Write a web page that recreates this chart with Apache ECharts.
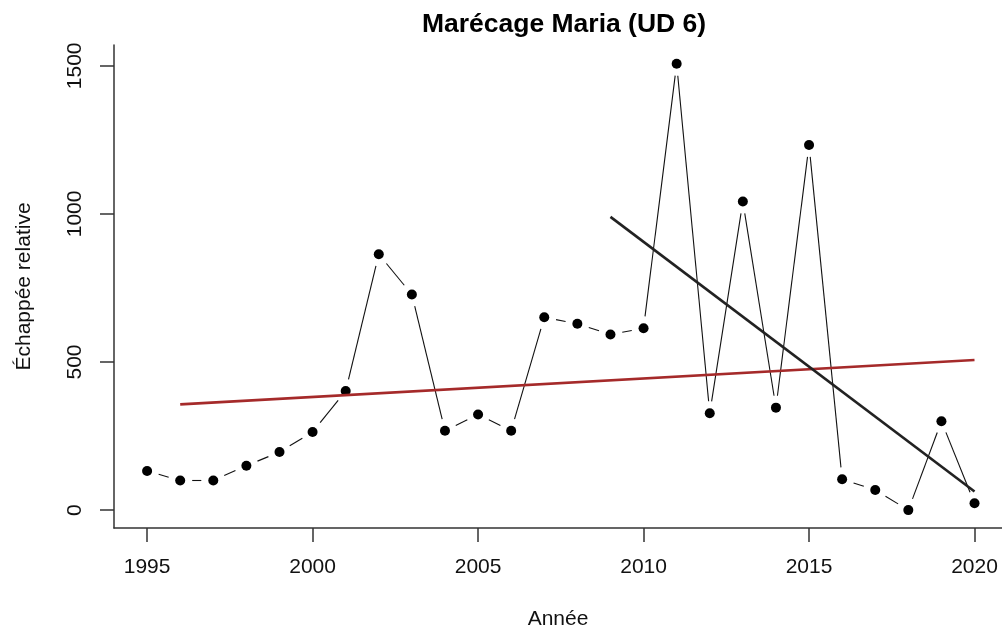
<!DOCTYPE html>
<html>
<head>
<meta charset="utf-8">
<script src="https://cdn.jsdelivr.net/npm/echarts@6/dist/echarts.min.js"></script>
<style>
html,body{margin:0;padding:0;background:#fff;}
#chart{width:1002px;height:635px;}
</style>
</head>
<body>
<div id="chart"></div>
<script>
// ---- Data ----
var years = [1995,1996,1997,1998,1999,2000,2001,2002,2003,2004,2005,2006,2007,2008,2009,2010,2011,2012,2013,2014,2015,2016,2017,2018,2019,2020];
var values = [132,100,100,150,196,264,402,864,728,268,323,268,651,629,593,614,1507,327,1042,346,1233,104,68,0,300,23];
var trendAllYears = [1996, 2020];
var trendAllValues = [357, 507];
var trendRecentYears = [2009, 2020];
var trendRecentValues = [990, 63];
var xTicks = [1995, 2000, 2005, 2010, 2015, 2020];
var yTicks = [0, 500, 1000, 1500];
var titleText = 'Marécage Maria (UD 6)';
var xName = 'Année';
var yName = 'Échappée relative';

// ---- Build ----
var points = years.map(function(y, i){ return [y, values[i]]; });
var segments = [];
for (var i = 0; i < years.length - 1; i++) {
  segments.push([years[i], values[i], years[i+1], values[i+1]]);
}
var trendAll = trendAllYears.map(function(y, i){ return [y, trendAllValues[i]]; });
var trendRecent = trendRecentYears.map(function(y, i){ return [y, trendRecentValues[i]]; });

var FONT = '"Liberation Sans", Arial, sans-serif';
var GAP = 12;

var chart = echarts.init(document.getElementById('chart'), null, {renderer: 'canvas'});
chart.setOption({
  animation: false,
  backgroundColor: '#ffffff',
  title: {
    text: titleText,
    left: 559,
    textAlign: 'center',
    top: 6,
    textStyle: {fontFamily: FONT, fontSize: 26.5, fontWeight: 'bold', color: '#000'}
  },
  grid: {left: 114, right: 0, top: 45, bottom: 104, containLabel: false},
  xAxis: {
    type: 'value',
    min: 1994, max: 2020.83,
    name: xName,
    nameLocation: 'middle',
    nameGap: 81,
    nameTextStyle: {fontFamily: FONT, fontSize: 21, color: '#111'},
    axisLine: {show: true, onZero: false, lineStyle: {color: '#333', width: 1.5}},
    axisTick: {show: true, inside: false, length: 14, customValues: xTicks, lineStyle: {color: '#333', width: 1.5}},
    axisLabel: {customValues: xTicks, margin: 29, fontFamily: FONT, fontSize: 21, color: '#111',
      formatter: function(v){ return String(v); }},
    splitLine: {show: false}
  },
  yAxis: {
    type: 'value',
    min: -60.4, max: 1570.4,
    name: yName,
    nameLocation: 'middle',
    nameGap: 79,
    nameTextStyle: {fontFamily: FONT, fontSize: 21, color: '#111'},
    axisLine: {show: true, onZero: false, lineStyle: {color: '#333', width: 1.5}},
    axisTick: {show: true, inside: false, length: 14, customValues: yTicks, lineStyle: {color: '#333', width: 1.5}},
    axisLabel: {customValues: yTicks, rotate: 90, margin: 28, fontFamily: FONT, fontSize: 21, color: '#111',
      formatter: function(v){ return String(v); }},
    splitLine: {show: false}
  },
  series: [
    {
      type: 'custom',
      data: segments,
      encode: {x: [0, 2], y: [1, 3]},
      clip: false,
      z: 2,
      renderItem: function(params, api){
        var p0 = api.coord([api.value(0), api.value(1)]);
        var p1 = api.coord([api.value(2), api.value(3)]);
        var dx = p1[0] - p0[0], dy = p1[1] - p0[1];
        var len = Math.sqrt(dx*dx + dy*dy);
        if (len <= 2 * GAP) return null;
        var ux = dx / len, uy = dy / len;
        return {
          type: 'line',
          shape: {x1: p0[0] + ux*GAP, y1: p0[1] + uy*GAP, x2: p1[0] - ux*GAP, y2: p1[1] - uy*GAP},
          style: {stroke: '#111', lineWidth: 1.1}
        };
      }
    },
    {
      type: 'scatter',
      data: points,
      symbol: 'circle',
      symbolSize: 10,
      itemStyle: {color: '#000', opacity: 1},
      z: 3
    },
    {
      type: 'line',
      data: trendAll,
      symbol: 'none',
      lineStyle: {color: '#a52a2a', width: 2.6},
      z: 4
    },
    {
      type: 'line',
      data: trendRecent,
      symbol: 'none',
      lineStyle: {color: '#222', width: 2.6},
      z: 5
    }
  ]
});
</script>
</body>
</html>
